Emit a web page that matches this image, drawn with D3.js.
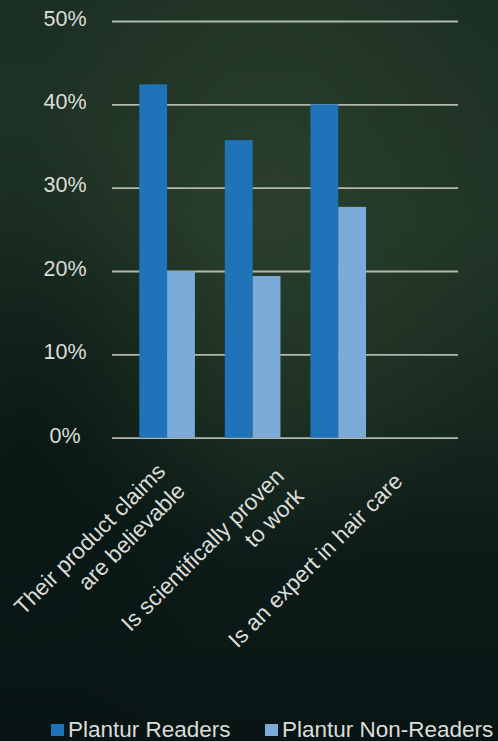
<!DOCTYPE html>
<html>
<head>
<meta charset="utf-8">
<script src="https://cdn.jsdelivr.net/npm/d3@7"></script>
<style>
  html, body { margin: 0; padding: 0; background: #0b1816; }
  svg { display: block; }
</style>
</head>
<body>
<div id="chart"></div>
<script>

// chart data
var categories = ['Their product claims are believable', 'Is scientifically proven to work', 'Is an expert in hair care'];
var categoryLines = [['Their product claims', 'are believable'], ['Is scientifically proven', 'to work'], ['Is an expert in hair care']];
var seriesNames = ['Plantur Readers', 'Plantur Non-Readers'];
var readers = [42.4, 35.7, 40.0];
var nonReaders = [20.0, 19.4, 27.7];
var yTicks = [0, 10, 20, 30, 40, 50];

function renderChart(params) {

  // exposed variables
  var attrs = {
    svgWidth: 498,
    svgHeight: 741,
    container: 'body',
    fontFamily: '"Liberation Sans", Arial, sans-serif',
    textColor: '#dcddd9',
    gridColor: '#b4b7ae',
    colors: ['#1f73b8', '#7bacd9']
  };

  Object.keys(attrs).forEach(function (key) {
    if (params && params[key]) attrs[key] = params[key];
  });

  var svg = d3.select(attrs.container)
    .append('svg')
    .attr('width', attrs.svgWidth)
    .attr('height', attrs.svgHeight)
    .style('font-family', attrs.fontFamily);

  //background
  var defs = svg.append('defs');
  var bg = defs.append('linearGradient').attr('id', 'bg').attr('x1', 0).attr('y1', 0).attr('x2', 0).attr('y2', 1);
  [['0%', '#1c2f24'], ['30%', '#203427'], ['55%', '#17291f'], ['72%', '#0d1c19'], ['100%', '#081514']]
    .forEach(function (s) { bg.append('stop').attr('offset', s[0]).attr('stop-color', s[1]); });

  var glow = defs.append('radialGradient').attr('id', 'glow').attr('cx', '0.55').attr('cy', '0.28').attr('r', '0.5');
  glow.append('stop').attr('offset', '0%').attr('stop-color', '#33482f').attr('stop-opacity', 0.55);
  glow.append('stop').attr('offset', '100%').attr('stop-color', '#33482f').attr('stop-opacity', 0);

  var shade = defs.append('radialGradient').attr('id', 'shade').attr('cx', '0.05').attr('cy', '0.6').attr('r', '0.45');
  shade.append('stop').attr('offset', '0%').attr('stop-color', '#04100f').attr('stop-opacity', 0.6);
  shade.append('stop').attr('offset', '100%').attr('stop-color', '#04100f').attr('stop-opacity', 0);

  svg.append('rect').attr('width', attrs.svgWidth).attr('height', attrs.svgHeight).attr('fill', 'url(#bg)');
  svg.append('rect').attr('width', attrs.svgWidth).attr('height', attrs.svgHeight).attr('fill', 'url(#glow)');
  svg.append('rect').attr('width', attrs.svgWidth).attr('height', attrs.svgHeight).attr('fill', 'url(#shade)');

  //scales
  var plot = { left: 112, right: 458, top: 21, bottom: 437.7 };

  var x0 = d3.scaleBand()
    .domain(categories)
    .range([124.3, 381])
    .paddingInner(0.35)
    .paddingOuter(0.175);

  var x1 = d3.scaleBand()
    .domain(seriesNames)
    .range([0, x0.bandwidth()]);

  var y = d3.scaleLinear()
    .domain([0, 50])
    .range([plot.bottom, plot.top]);

  var color = d3.scaleOrdinal().domain(seriesNames).range(attrs.colors);

  // label anchors (top right corner of rotated label blocks)
  var labelX = d3.scalePoint().domain(categories).range([158, 395]);
  var labelY = d3.scalePoint().domain(categories).range([464, 474]);

  //gridlines
  var yAxis = d3.axisLeft(y)
    .tickValues(yTicks)
    .tickSize(-(plot.right - plot.left))
    .tickFormat(function (d) { return d + '%'; });

  var yAxisG = svg.append('g')
    .attr('transform', 'translate(' + plot.left + ',0)')
    .call(yAxis);

  yAxisG.select('.domain').remove();
  yAxisG.selectAll('.tick line')
    .attr('stroke', attrs.gridColor)
    .attr('stroke-width', 1.8);
  yAxisG.selectAll('.tick text')
    .attr('x', -(plot.left - 65))
    .attr('dy', '0.2em')
    .attr('text-anchor', 'middle')
    .attr('fill', attrs.textColor)
    .style('font-family', attrs.fontFamily)
    .style('font-size', '21.5px');

  //bars
  var rows = categories.map(function (c, i) {
    return { cat: c, values: [{ key: seriesNames[0], value: readers[i] }, { key: seriesNames[1], value: nonReaders[i] }] };
  });

  var groups = svg.append('g').selectAll('g')
    .data(rows)
    .enter().append('g')
    .attr('transform', function (d) { return 'translate(' + x0(d.cat) + ',0)'; });

  groups.selectAll('rect')
    .data(function (d) { return d.values; })
    .enter().append('rect')
    .attr('x', function (d) { return x1(d.key); })
    .attr('width', x1.bandwidth())
    .attr('y', function (d) { return y(d.value); })
    .attr('height', function (d) { return y(0) - y(d.value); })
    .attr('fill', function (d) { return color(d.key); });

  //x labels
  var labels = svg.append('g').selectAll('text')
    .data(categories)
    .enter().append('text')
    .attr('transform', function (d) { return 'translate(' + labelX(d) + ',' + labelY(d) + ') rotate(-45)'; })
    .attr('text-anchor', 'end')
    .attr('fill', attrs.textColor)
    .style('font-size', '22.5px');

  labels.selectAll('tspan')
    .data(function (d, i) { return categoryLines[i]; })
    .enter().append('tspan')
    .attr('x', 0)
    .attr('y', function (d, i) { return (0.55 + i * 1.24) + 'em'; })
    .text(function (d) { return d; });

  //legend
  var legendX = [51, 265];
  var legend = svg.append('g').selectAll('g')
    .data(seriesNames)
    .enter().append('g')
    .attr('transform', function (d, i) { return 'translate(' + legendX[i] + ',724)'; });

  legend.append('rect')
    .attr('width', 13)
    .attr('height', 12)
    .attr('fill', function (d) { return color(d); });

  legend.append('text')
    .attr('x', 17)
    .attr('y', 13)
    .attr('fill', attrs.textColor)
    .style('font-size', '22.5px')
    .text(function (d) { return d; });
}

renderChart({ container: '#chart' });
</script>
</body>
</html>
